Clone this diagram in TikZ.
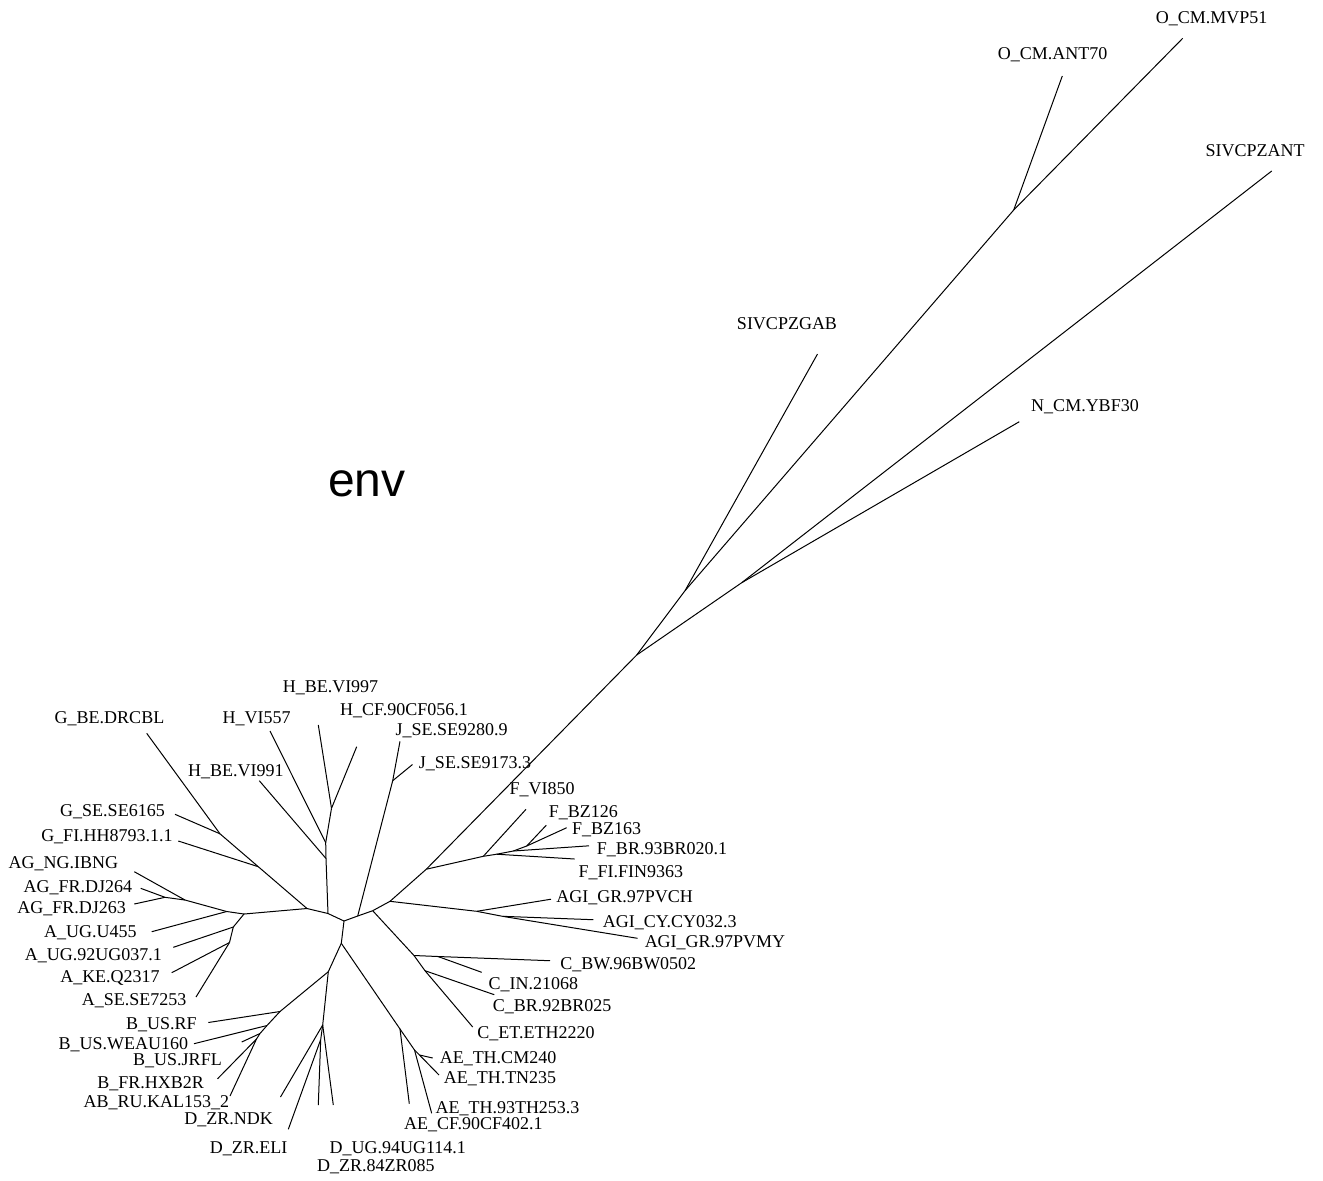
\documentclass[tikz,border=0pt]{standalone}
\usepackage{fontspec}
\setmainfont{Liberation Serif}
\newfontfamily\envsans{Liberation Sans}
\begin{document}
\begin{tikzpicture}[x=0.5pt,y=-0.5pt,
  br/.style={line width=0.5pt,black},
  lbl/.style={inner sep=0pt,anchor=base,font=\fontsize{9}{10}\selectfont}]
\useasboundingbox (0,0) rectangle (1323,1180);
% internal nodes
\coordinate (c1) at (328,913.5);
\coordinate (c2) at (344,921);
\coordinate (nJ) at (357.7,916);
\coordinate (nR) at (372.7,910.7);
\coordinate (nDown) at (341.3,943.3);
\coordinate (nG) at (307,908.5);
\coordinate (nH) at (326,858.5);
\coordinate (h1) at (325.7,842.7);
\coordinate (h2) at (331.5,808.3);
\coordinate (g1) at (258.3,866.7);
\coordinate (g2) at (220,833.8);
\coordinate (nA) at (244,914);
\coordinate (nAU) at (226.7,911.5);
\coordinate (ag1) at (185,900);
\coordinate (ag2) at (165,897.3);
\coordinate (a1) at (233.3,927);
\coordinate (a2) at (229.5,942.5);
\coordinate (j1) at (392.7,780.7);
\coordinate (nAGI) at (390,901.3);
\coordinate (agi1) at (476.7,911.3);
\coordinate (agi2) at (502.5,916.3);
\coordinate (nF) at (426.3,869.2);
\coordinate (f1) at (483.3,856.3);
\coordinate (f2) at (496.7,854.2);
\coordinate (f3) at (513.3,851);
\coordinate (f4) at (526.7,846);
\coordinate (nBig) at (636.7,655);
\coordinate (nS) at (685,590.7);
\coordinate (nO) at (1013.7,210);
\coordinate (nN) at (741.7,582.7);
\coordinate (cc1) at (414,955.5);
\coordinate (cc2) at (438,956.5);
\coordinate (cc3) at (425,970.7);
\coordinate (ae1) at (400,1029);
\coordinate (ae2) at (414.5,1050);
\coordinate (ae3) at (419.5,1055);
\coordinate (db) at (328.3,971.7);
\coordinate (b1) at (280,1011.5);
\coordinate (b2) at (267,1025.5);
\coordinate (b3) at (260,1033.5);
\coordinate (b4) at (256.5,1039);
\coordinate (d1) at (322.7,1025);
\coordinate (d2) at (320.7,1039.5);
% tips
\coordinate (tGBE) at (146.7,733.3);
\coordinate (tGSE) at (175,814.3);
\coordinate (tGFI) at (178.3,841);
\coordinate (tAGNG) at (134.3,871.7);
\coordinate (tDJ264) at (140.7,888.3);
\coordinate (tDJ263) at (134.3,904);
\coordinate (tU455) at (151.7,931.7);
\coordinate (t92UG) at (173.3,947.3);
\coordinate (tKE) at (171.7,972.7);
\coordinate (tSE7253) at (196,997);
\coordinate (tRF) at (208.3,1022.5);
\coordinate (tWEAU) at (194,1043.7);
\coordinate (tJRFL) at (241.7,1042);
\coordinate (tHXB) at (217.5,1078.8);
\coordinate (tKAL) at (230,1096);
\coordinate (tNDK) at (280.5,1097);
\coordinate (tELI) at (288.3,1129.3);
\coordinate (tD1) at (318.3,1105);
\coordinate (tD2) at (333.3,1105);
\coordinate (tAECF) at (409.3,1103.7);
\coordinate (tAE93) at (431.7,1113.3);
\coordinate (tCM240) at (432.7,1058);
\coordinate (tTN235) at (439,1075);
\coordinate (tCET) at (472.7,1027);
\coordinate (tCBR) at (494.3,994.7);
\coordinate (tCIN) at (481.7,972.3);
\coordinate (tCBW) at (550,960.7);
\coordinate (tPVMY) at (637.5,938.3);
\coordinate (tCY) at (593.3,919.7);
\coordinate (tPVCH) at (551,899.2);
\coordinate (tFFI) at (574.7,859);
\coordinate (tFBR) at (589,845.8);
\coordinate (tBZ163) at (566.7,827.7);
\coordinate (tBZ126) at (546.3,825.2);
\coordinate (tVI850) at (526,809.3);
\coordinate (tJ9173) at (412.5,764.5);
\coordinate (tJ9280) at (400,741.3);
\coordinate (tHCF) at (356.7,746.7);
\coordinate (tH997) at (318.3,725);
\coordinate (tH557) at (270,731);
\coordinate (tH991) at (259.3,780.7);
\coordinate (tGAB) at (817.5,354);
\coordinate (tANT70) at (1062.3,76);
\coordinate (tMVP) at (1182.7,38.3);
\coordinate (tANT) at (1271.7,171);
\coordinate (tYBF) at (1019.3,421.7);
% edges
\foreach \a/\b in {c1/c2,c2/nJ,nJ/nR,c2/nDown,c1/nG,c1/nH,
  nH/h1,nH/tH991,h1/tH557,h1/h2,h2/tH997,h2/tHCF,
  nJ/j1,j1/tJ9280,j1/tJ9173,
  nG/g1,g1/tGFI,g1/g2,g2/tGSE,g2/tGBE,
  nG/nA,nA/nAU,nAU/tU455,nAU/ag1,ag1/tAGNG,ag1/ag2,ag2/tDJ264,ag2/tDJ263,
  nA/a1,a1/t92UG,a1/a2,a2/tKE,a2/tSE7253,
  nR/nAGI,nAGI/agi1,agi1/tPVCH,agi1/agi2,agi2/tCY,agi2/tPVMY,
  nAGI/nF,nF/f1,f1/tVI850,f1/f2,f2/tFFI,f2/f3,f3/tFBR,f3/f4,f4/tBZ126,f4/tBZ163,
  nF/nBig,nBig/nS,nS/tGAB,nS/nO,nO/tANT70,nO/tMVP,nBig/nN,nN/tANT,nN/tYBF,
  nR/cc1,cc1/cc2,cc2/tCBW,cc2/tCIN,cc1/cc3,cc3/tCBR,cc3/tCET,
  nDown/ae1,ae1/tAECF,ae1/ae2,ae2/tAE93,ae2/ae3,ae3/tCM240,ae3/tTN235,
  nDown/db,db/b1,b1/tRF,b1/b2,b2/tWEAU,b2/b3,b3/tJRFL,b3/b4,b4/tHXB,b4/tKAL,
  db/d1,d1/tNDK,d1/d2,d1/tD2,d2/tELI,d2/tD1}
  {\draw[br] (\a) -- (\b);}
% labels (x = centre, y = baseline)
\node[lbl] (LGBE) at (109.5,723) {G\_BE.DRCBL};
\node[lbl] (LH557) at (256.7,723) {H\_VI557};
\node[lbl] (LH997) at (330.5,692) {H\_BE.VI997};
\node[lbl] (LHCF) at (404,715) {H\_CF.90CF056.1};
\node[lbl] (LJ9280) at (451.7,735) {J\_SE.SE9280.9};
\node[lbl] (LJ9173) at (475,768) {J\_SE.SE9173.3};
\node[lbl] (LH991) at (235.8,776) {H\_BE.VI991};
\node[lbl] (LGSE) at (112.5,816) {G\_SE.SE6165};
\node[lbl] (LGFI) at (107,841) {G\_FI.HH8793.1.1};
\node[lbl] (LAGNG) at (63.3,868) {AG\_NG.IBNG};
\node[lbl] (LDJ264) at (78,892) {AG\_FR.DJ264};
\node[lbl] (LDJ263) at (71.7,913) {AG\_FR.DJ263};
\node[lbl] (LU455) at (90.3,937.7) {A\_UG.U455};
\node[lbl] (L92UG) at (93.3,960) {A\_UG.92UG037.1};
\node[lbl] (LKE) at (110,982) {A\_KE.Q2317};
\node[lbl] (LSE7253) at (134.2,1005) {A\_SE.SE7253};
\node[lbl] (LRF) at (161.3,1029) {B\_US.RF};
\node[lbl] (LWEAU) at (123.3,1049) {B\_US.WEAU160};
\node[lbl] (LJRFL) at (177.5,1065) {B\_US.JRFL};
\node[lbl] (LHXB) at (150.7,1088) {B\_FR.HXB2R};
\node[lbl] (LKAL) at (156.3,1107) {AB\_RU.KAL153\_2};
\node[lbl] (LNDK) at (228.7,1124) {D\_ZR.NDK};
\node[lbl] (LELI) at (248.7,1153) {D\_ZR.ELI};
\node[lbl] (LD1) at (397.7,1153) {D\_UG.94UG114.1};
\node[lbl] (LD2) at (375.8,1171) {D\_ZR.84ZR085};
\node[lbl] (LAECF) at (473.3,1129) {AE\_CF.90CF402.1};
\node[lbl] (LAE93) at (507.5,1113) {AE\_TH.93TH253.3};
\node[lbl] (LTN235) at (500,1083) {AE\_TH.TN235};
\node[lbl] (LCM240) at (498,1063) {AE\_TH.CM240};
\node[lbl] (LCET) at (536,1038) {C\_ET.ETH2220};
\node[lbl] (LCBR) at (552.2,1011) {C\_BR.92BR025};
\node[lbl] (LCIN) at (533.3,989) {C\_IN.21068};
\node[lbl] (LCBW) at (628.3,969) {C\_BW.96BW0502};
\node[lbl] (LPVMY) at (715,947.7) {AGI\_GR.97PVMY};
\node[lbl] (LCY) at (669.7,927.7) {AGI\_CY.CY032.3};
\node[lbl] (LPVCH) at (624.7,902.7) {AGI\_GR.97PVCH};
\node[lbl] (LFFI) at (630.8,877.7) {F\_FI.FIN9363};
\node[lbl] (LFBR) at (662,854.3) {F\_BR.93BR020.1};
\node[lbl] (LBZ163) at (606.7,834.3) {F\_BZ163};
\node[lbl] (LBZ126) at (583.3,817.7) {F\_BZ126};
\node[lbl] (LVI850) at (542.2,794.3) {F\_VI850};
\node[lbl] (LYBF) at (1085,411.7) {N\_CM.YBF30};
\node[lbl] (LGAB) at (787,329) {SIVCPZGAB};
\node[lbl] (LANT) at (1255,156.7) {SIVCPZANT};
\node[lbl] (LANT70) at (1052.7,59.3) {O\_CM.ANT70};
\node[lbl] (LMVP) at (1211.7,23.3) {O\_CM.MVP51};
\node[inner sep=0pt,anchor=base] (envlbl) at (367,496.7) {\envsans\fontsize{24}{28}\selectfont env};
\end{tikzpicture}
\end{document}
